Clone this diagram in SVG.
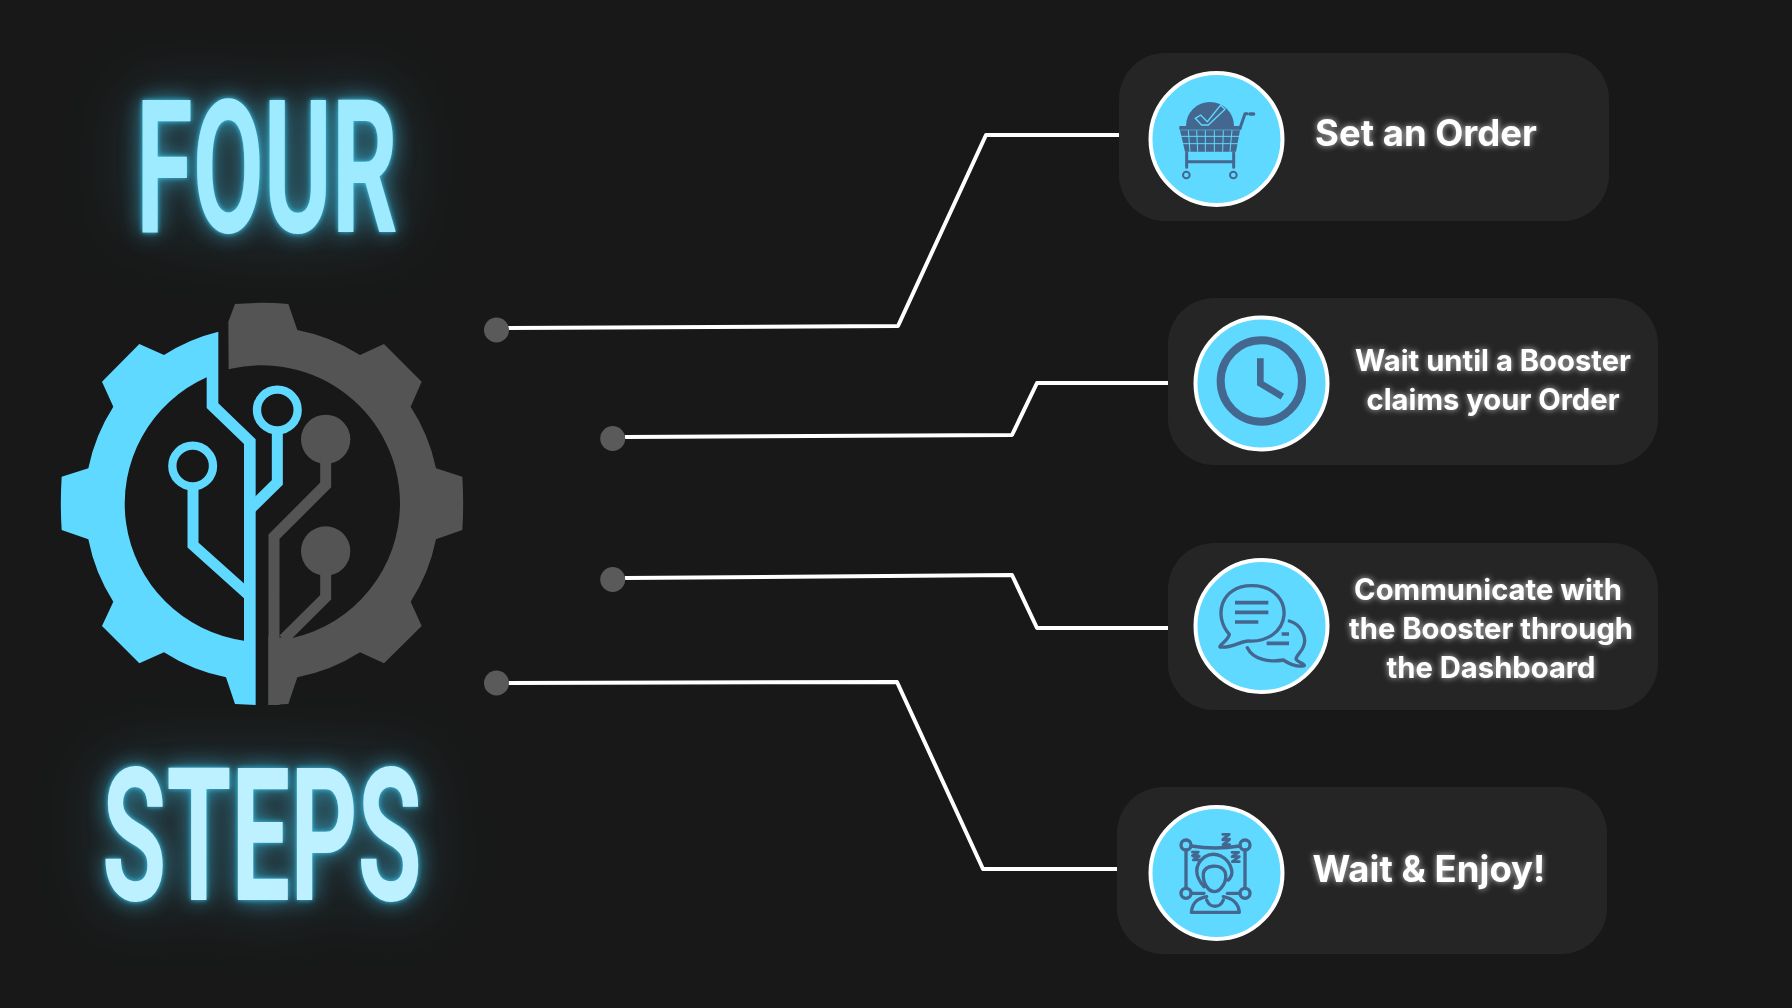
<svg xmlns="http://www.w3.org/2000/svg" width="1792" height="1008" viewBox="0 0 1792 1008">
<defs>
<style>
.title{font-family:"Roboto","Liberation Sans",sans-serif;font-weight:700;font-size:186px;filter:url(#neon)}
.label{font-family:"Inter","Noto Sans",sans-serif;font-weight:700;fill:#fff;text-anchor:middle;filter:url(#soft)}
.big{font-size:36.5px}
.small{font-size:29.2px}
.panel{fill:#252525}
.disc{fill:#5fd9ff;stroke:#fff;stroke-width:4}
.ink{fill:none;stroke:#44678f;stroke-linecap:round;stroke-linejoin:round}
.inkf{fill:#44678f}
.wire{fill:none;stroke:#fff;stroke-width:4;stroke-linejoin:round}
.dot{fill:#5a5a5a}
.blue{fill:#5fd9ff}
.gray{fill:#545454}
.bs{fill:none;stroke:#5fd9ff;stroke-width:33}
.gs{fill:none;stroke:#545454;stroke-width:33}
</style>
<filter id="neon" x="-40%" y="-50%" width="180%" height="200%" color-interpolation-filters="sRGB">
<feGaussianBlur in="SourceAlpha" stdDeviation="2.5" result="a"/>
<feFlood flood-color="#39c6ee" flood-opacity="1"/><feComposite in2="a" operator="in" result="g1"/>
<feGaussianBlur in="SourceAlpha" stdDeviation="11" result="b"/>
<feFlood flood-color="#3cc4ea" flood-opacity=".7"/><feComposite in2="b" operator="in" result="g2"/>
<feGaussianBlur in="SourceAlpha" stdDeviation="34" result="c"/>
<feFlood flood-color="#5fd9ff" flood-opacity=".3"/><feComposite in2="c" operator="in" result="g3"/>
<feMerge><feMergeNode in="g3"/><feMergeNode in="g2"/><feMergeNode in="g1"/><feMergeNode in="SourceGraphic"/></feMerge>
</filter>
<filter id="soft" x="-20%" y="-50%" width="140%" height="200%" color-interpolation-filters="sRGB">
<feGaussianBlur in="SourceAlpha" stdDeviation="3" result="a"/>
<feFlood flood-color="#fff" flood-opacity=".7"/><feComposite in2="a" operator="in" result="g"/>
<feMerge><feMergeNode in="g"/><feMergeNode in="SourceGraphic"/></feMerge>
</filter>
</defs>
<rect width="1792" height="1008" fill="#181818"/>

<g id="title-four"><text class="title" x="136" y="232" textLength="262" lengthAdjust="spacingAndGlyphs" fill="#9eeaff">FOUR</text></g>
<g id="title-steps"><text class="title" x="102" y="900" textLength="320" lengthAdjust="spacingAndGlyphs" fill="#bdf1ff">STEPS</text></g>

<g id="gear" transform="translate(40 280) scale(.33333)">
<path class="blue" fill-rule="evenodd" d="M535,155A534,534 0 0 0 372,225L298,192L186,305L220,380A534,534 0 0 0 145,565L65,590Q60,670 65,750L145,778A534,534 0 0 0 220,965L186,1038L298,1150L372,1117A534,534 0 0 0 558,1192L585,1272L647,1275L647,478L535,370ZM500,292A415,415 0 0 0 612,1082L612,492L500,384Z"/>
<circle class="bs" style="stroke-width:25" cx="458" cy="558" r="61"/>
<circle class="bs" style="stroke-width:25" cx="712" cy="390" r="61"/>
<path class="bs" d="M459,625V795L628,947M712,450V607L630,688"/>
<path class="gray" d="M565,125L585,72Q665,65 745,72L772,150A534,534 0 0 1 960,225L1032,192L1145,305L1112,380A534,534 0 0 1 1188,565L1267,590Q1272,670 1267,750L1188,778A534,534 0 0 1 1112,965L1145,1038L1032,1150L960,1117A534,534 0 0 1 772,1192L745,1272L685,1275L685,1070L755,1075A415,415 0 0 0 1080,670A415,415 0 0 0 566,268Z"/>
<circle class="gray" cx="857" cy="478" r="74"/>
<circle class="gray" cx="857" cy="813" r="74"/>
<path class="gs" d="M702,1275V770L857,615V530M857,870V952L730,1078"/>
</g>

<g id="connectors">
<path class="wire" d="M508,328L898,326L986,135H1119"/>
<path class="wire" d="M625,437L1012,435L1037,383H1168"/>
<path class="wire" d="M625,578L1012,575L1037,628H1168"/>
<path class="wire" d="M508,683L897,682L983,869H1117"/>
<circle class="dot" cx="496.5" cy="330" r="12.5"/>
<circle class="dot" cx="612.7" cy="438.5" r="12.5"/>
<circle class="dot" cx="612.7" cy="579.5" r="12.5"/>
<circle class="dot" cx="496.5" cy="683" r="12.5"/>
</g>

<g id="step-1">
<rect class="panel" x="1119" y="53" width="490" height="168" rx="46"/>
<circle class="disc" cx="1216.5" cy="139" r="66"/>
<g transform="translate(1130 50) scale(.33333)">
<path class="inkf" d="M168,228A72,72 0 1 1 312,228Z"/>
<path d="M196,205L212,195L232,215L272,165L285,178L235,225H215Z" fill="#44678f" stroke="#5fd9ff" stroke-width="4"/>
<path class="inkf" d="M148,228H334V239H148ZM150,241H330L318,305H165Z"/>
<path d="M175,241L180,305M200,241L203,305M226,241V305M253,241V305M280,241L278,305M306,241L300,305M152,259H328M156,281H324" stroke="#5fd9ff" stroke-width="3" fill="none"/>
<path class="ink" stroke-width="9" d="M330,235L345,191H352M170,308V352M311,308V352M170,335H311"/>
<path class="ink" stroke-width="10" d="M360,192H371"/>
<circle class="ink" stroke-width="6" cx="169" cy="375" r="10"/>
<circle class="ink" stroke-width="6" cx="310" cy="375" r="10"/>
</g>
<text class="label big" x="1426" y="146">Set an Order</text>
</g>

<g id="step-2">
<rect class="panel" x="1168" y="298" width="490" height="167" rx="46"/>
<circle class="disc" cx="1261.5" cy="383.5" r="66"/>
<g transform="translate(1170 300) scale(.33333)">
<circle cx="274" cy="243" r="122" fill="none" stroke="#44678f" stroke-width="24"/>
<path d="M271,175V250L337,290" fill="none" stroke="#44678f" stroke-width="20"/>
</g>
<text class="label small" x="1493" y="371">Wait until a Booster</text>
<text class="label small" x="1493" y="410">claims your Order</text>
</g>

<g id="step-3">
<rect class="panel" x="1168" y="543" width="490" height="167" rx="46"/>
<circle class="disc" cx="1261.5" cy="626" r="66"/>
<g transform="translate(1170 545) scale(.33333)">
<path class="ink" stroke-width="10" d="M178,268C130,215 150,122 245,122C320,122 345,175 342,210C338,260 290,292 235,288C210,288 190,310 150,306C145,300 175,288 178,268Z"/>
<path class="ink" stroke-width="10" d="M358,228C395,238 412,280 400,305C395,320 380,330 378,342C382,352 402,355 403,362C380,368 355,355 340,345C300,352 250,345 232,308"/>
<path d="M195,173H295M195,202H295M195,231H265M335,267H357M290,295H357" stroke="#44678f" stroke-width="11" fill="none"/>
</g>
<text class="label small" x="1488" y="600">Communicate with</text>
<text class="label small" x="1491" y="639">the Booster through</text>
<text class="label small" x="1491" y="678">the Dashboard</text>
</g>

<g id="step-4">
<rect class="panel" x="1117" y="787" width="490" height="167" rx="46"/>
<circle class="disc" cx="1216.5" cy="873" r="66"/>
<g transform="translate(1130 790) scale(.33333)">
<g class="ink" stroke-width="10">
<circle cx="168" cy="165" r="15"/><circle cx="345" cy="165" r="15"/><circle cx="168" cy="310" r="15"/><circle cx="345" cy="310" r="15"/>
<path d="M168,180V295M345,180V295M184,168Q255,180 330,168M184,310H222M292,310H330"/>
<path d="M222,290C195,260 190,225 225,200C255,182 295,200 305,240C308,255 300,265 295,270"/>
<path d="M220,250C225,225 270,220 285,245C295,275 270,305 254,305C235,305 218,280 220,250Z"/>
<path d="M230,320C205,325 187,335 184,367H328C325,335 305,325 280,320M230,330C240,355 270,355 280,330"/>
<path stroke-width="8" d="M278,133H298L279,147H299M278,150H298L279,164H299M306,187H326L306,200H328M308,200H328L307,215H328M187,186H205L187,197H205M190,199H208L190,210H208"/>
</g>
</g>
<text class="label big" x="1429" y="882">Wait &amp; Enjoy!</text>
</g>
</svg>
